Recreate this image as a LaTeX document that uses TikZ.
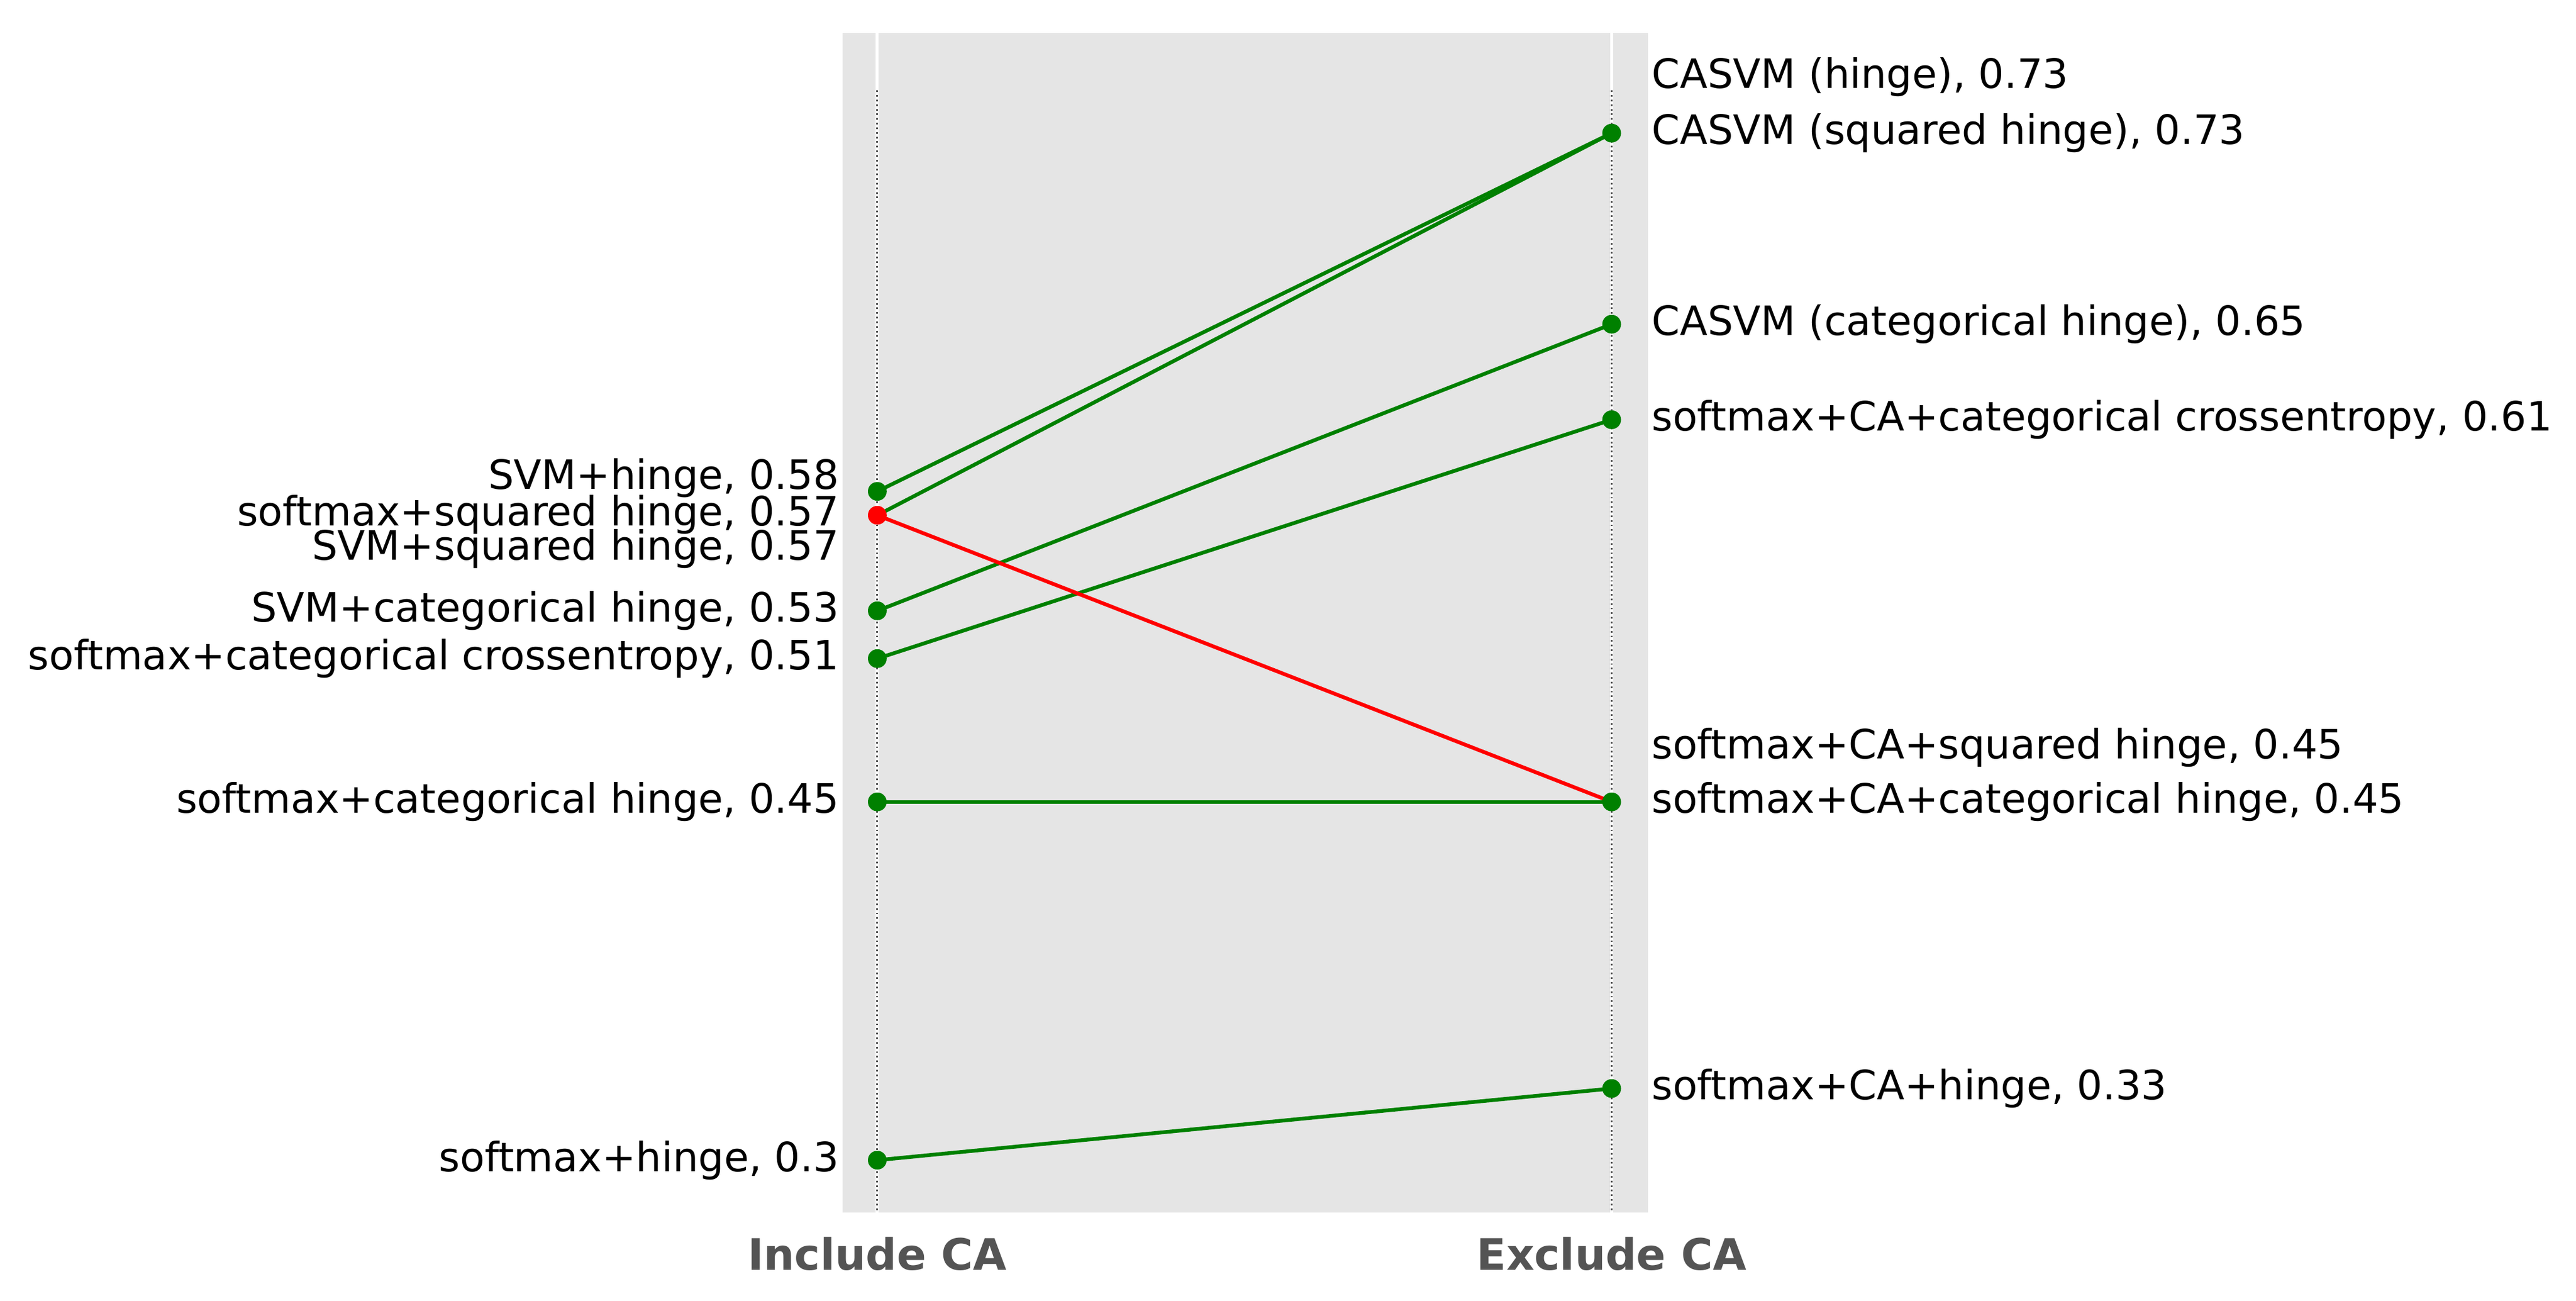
\documentclass[tikz,border=0pt]{standalone}
\usepackage{fontspec}
\setmainfont{DejaVu Sans}
\usetikzlibrary{positioning}
\definecolor{panel}{HTML}{E5E5E5}
\definecolor{up}{HTML}{008000}
\definecolor{down}{HTML}{FF0000}
\tikzset{
  dot/.style={circle,fill=#1,inner sep=0pt,minimum size=6.5pt},
  link/.style={line width=1.3pt,#1},
  lab/.style={font=\fontsize{14}{16}\selectfont,inner sep=0pt},
  axlab/.style={font=\fontsize{15}{18}\selectfont\bfseries,text=black!67}
}
\newcommand{\yv}[1]{{81+(0.73-#1)*1453.5}}
\begin{document}
\begin{tikzpicture}[x=0.02cm,y=-0.02cm]
  \useasboundingbox (0,0) rectangle (1568,791.4);
  % panel and guides
  \fill[panel] (513,20) rectangle (1003,738);
  \draw[white,line width=1pt] (534,20) -- (534,738) (981,20) -- (981,738);
  \draw[black!70,densely dotted,line width=0.6pt] (534,55) -- (534,738) (981,55) -- (981,738);

  % left points
  \coordinate (l1) at (534,\yv{0.58});
  \coordinate (l2) at (534,\yv{0.57});
  \coordinate (l3) at (534,\yv{0.53});
  \coordinate (l4) at (534,\yv{0.51});
  \coordinate (l5) at (534,\yv{0.45});
  \coordinate (l6) at (534,\yv{0.30});
  % right points
  \coordinate (r1) at (981,\yv{0.73});
  \coordinate (r2) at (981,\yv{0.65});
  \coordinate (r3) at (981,\yv{0.61});
  \coordinate (r4) at (981,\yv{0.45});
  \coordinate (r5) at (981,\yv{0.33});

  % slopes
  \draw[link=up] (l1) -- (r1);
  \draw[link=up] (l2) -- (r1);
  \draw[link=up] (l3) -- (r2);
  \draw[link=up] (l4) -- (r3);
  \draw[link=up] (l5) -- (r4);
  \draw[link=up] (l6) -- (r5);
  \draw[link=down] (l2) -- (r4);

  \foreach \p in {l1,l3,l4,l5,l6,r1,r2,r3,r4,r5}
    \node[dot=up] at (\p) {};
  \node[dot=down] at (l2) {};

  % left labels
  \node[lab,anchor=east] at (511,291) {SVM+hinge, 0.58};
  \node[lab,anchor=east] at (511,313) {softmax+squared hinge, 0.57};
  \node[lab,anchor=east] at (511,334) {SVM+squared hinge, 0.57};
  \node[lab,anchor=east] at (511,\yv{0.53}) {SVM+categorical hinge, 0.53};
  \node[lab,anchor=east] at (511,\yv{0.51}) {softmax+categorical crossentropy, 0.51};
  \node[lab,anchor=east] at (511,\yv{0.45}) {softmax+categorical hinge, 0.45};
  \node[lab,anchor=east] at (511,\yv{0.30}) {softmax+hinge, 0.3};
  % right labels
  \node[lab,anchor=west] at (1005,47) {CASVM (hinge), 0.73};
  \node[lab,anchor=west] at (1005,\yv{0.73}) {CASVM (squared hinge), 0.73};
  \node[lab,anchor=west] at (1005,\yv{0.65}) {CASVM (categorical hinge), 0.65};
  \node[lab,anchor=west] at (1005,\yv{0.61}) {softmax+CA+categorical crossentropy, 0.61};
  \node[lab,anchor=west] at (1005,455) {softmax+CA+squared hinge, 0.45};
  \node[lab,anchor=west] at (1005,\yv{0.45}) {softmax+CA+categorical hinge, 0.45};
  \node[lab,anchor=west] at (1005,\yv{0.33}) {softmax+CA+hinge, 0.33};

  % axis labels
  \node[axlab] (inc) at (534,763) {Include CA};
  \node[axlab] (exc) at (981,763) {Exclude CA};
\end{tikzpicture}
\end{document}
